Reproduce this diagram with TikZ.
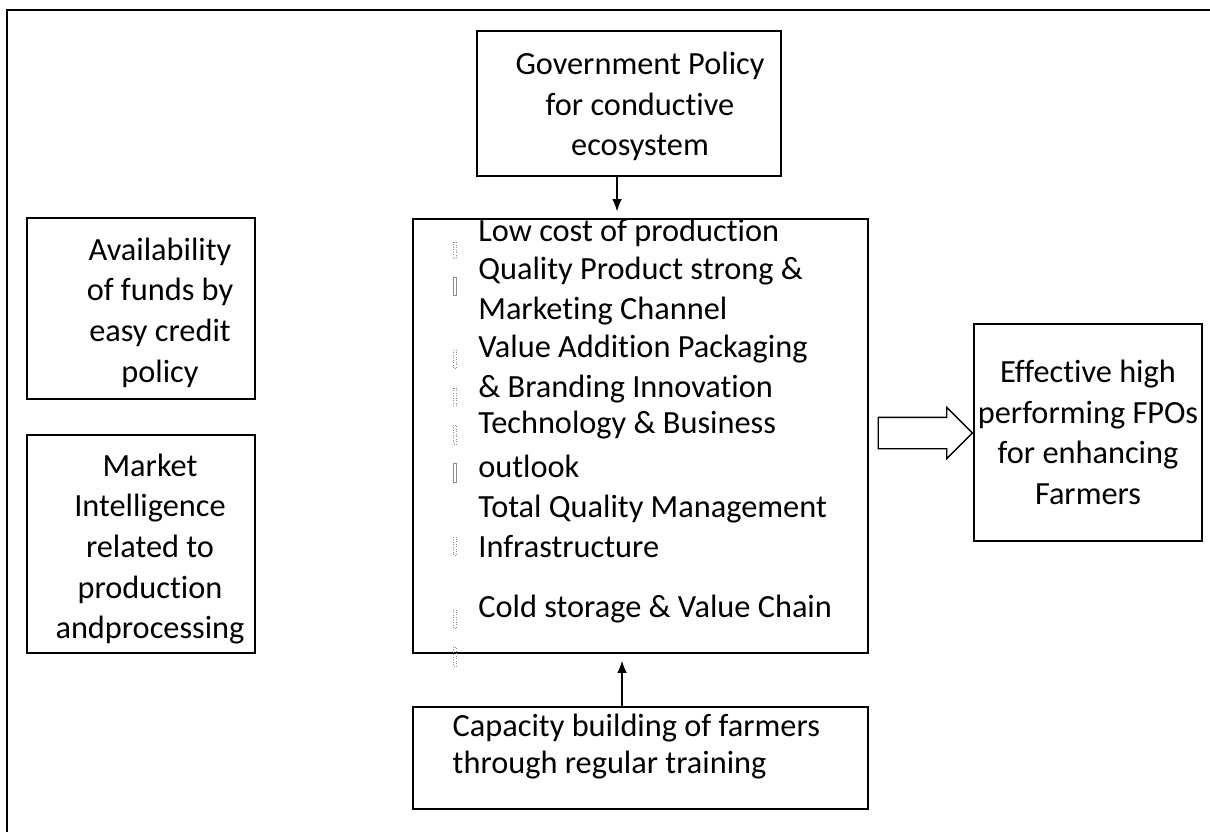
\documentclass[tikz,border=0pt]{standalone}
\usepackage{fontspec}
\setmainfont[Ligatures=NoCommon]{Carlito}
\usetikzlibrary{calc}
\usetikzlibrary{arrows.meta}
\usetikzlibrary{shapes.arrows}
\tikzset{>=latex}
\tikzstyle{box} = [rectangle, draw=black, line width=0.75pt, inner sep=0]
\tikzstyle{txt} = [draw=none, inner sep=0, align=center, font=\fontsize{18.4}{23.1}\selectfont]
\tikzstyle{item} = [draw=none, inner sep=0, anchor=base west, font=\fontsize{18.4}{22}\selectfont]
\tikzstyle{glyph} = [draw=black!45, line width=0.4pt]
\tikzstyle{pointer} = [-{Latex[length=7pt,width=5.5pt]}, line width=0.75pt, shorten >=0.14cm]

\begin{document}
\begin{tikzpicture}
\useasboundingbox (0,0) rectangle (24.2,16.62);
% outer frame
\draw [line width=1.1pt] (0.14,-0.2) -- (0.14,16.42) -- (24.5,16.42);

\node [box, minimum width=6.08cm, minimum height=2.90cm] (gov) at (12.58,14.55) {};
\node [txt] (gov-t) at ([xshift=0.22cm, yshift=-0.06cm]gov.center) {Government Policy\\for conductive\\ecosystem};

\node [box, minimum width=4.56cm, minimum height=3.62cm] (avail) at (2.82,10.45) {};
\node [txt] (avail-t) at ([xshift=0.38cm, yshift=-0.08cm]avail.center) {Availability\\of funds by\\easy credit\\policy};

\node [box, minimum width=4.56cm, minimum height=4.36cm] (market) at (2.82,5.74) {};
\node [txt] (market-t) at ([xshift=0.18cm, yshift=-0.10cm]market.center) {Market\\Intelligence\\related to\\production\\andprocessing};

\node [box, minimum width=9.10cm, minimum height=8.68cm] (core) at (12.81,7.90) {};
\foreach \y/\t [count=\i] in {11.78/Low cost of production, 11.02/Quality Product strong \&,
  10.22/Marketing Channel, 9.46/Value Addition Packaging, 8.68/\& Branding Innovation,
  7.96/Technology \& Business, 7.08/outlook, 6.28/Total Quality Management,
  5.48/Infrastructure, 4.28/Cold storage \& Value Chain}
  \node [item] (item-\i) at (9.56,\y) {\t};
% missing bullet glyphs
\foreach \a/\b/\s in {11.78/11.46/densely dotted, 11.08/10.72/solid, 9.62/9.26/densely dotted,
  8.86/8.52/densely dotted, 8.12/7.74/densely dotted, 7.36/6.98/solid,
  5.88/5.52/densely dotted, 4.42/4.06/densely dotted, 3.68/3.30/densely dotted}
  \draw [glyph, \s] (9.06,\a) rectangle (9.13,\b);

\node [txt, box, minimum width=4.56cm, minimum height=4.34cm] (fpo) at (21.76,7.97) {Effective high\\performing FPOs\\for enhancing\\Farmers};

\node [box, minimum width=9.10cm, minimum height=2.04cm] (capa) at (12.81,1.46) {};
\node [txt, align=left, anchor=west, font=\fontsize{18.4}{21}\selectfont] (capa-t) at ([xshift=0.80cm, yshift=0.23cm]capa.west) {Capacity building of farmers\\through regular training};

\draw [pointer] ([xshift=-0.24cm]gov.south) to ([xshift=-0.24cm]gov.south |- core.north);
\draw [pointer] ([xshift=-0.37cm]capa.north) to ([xshift=-0.37cm]capa.north |- core.south);
\node [single arrow, draw=black, line width=0.75pt, inner xsep=0, inner ysep=0.3cm,
  single arrow head extend=0.2cm, minimum height=1.88cm, anchor=tail] (push) at ([xshift=0.18cm, yshift=0.06cm]core.east) {};
\end{tikzpicture}
\end{document}
